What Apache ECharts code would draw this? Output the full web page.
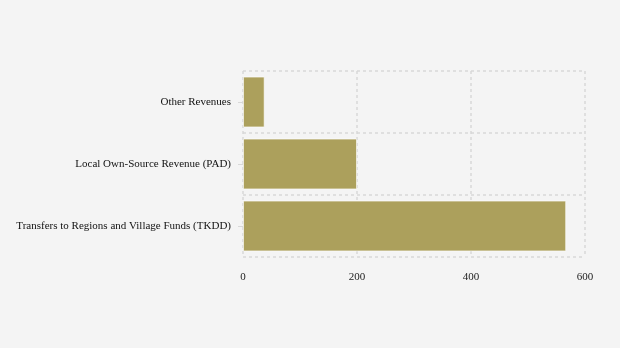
<!DOCTYPE html>
<html><head><meta charset="utf-8">
<script src="https://cdn.jsdelivr.net/npm/echarts@6/dist/echarts.min.js"></script>
<style>html,body{margin:0;padding:0;background:#f4f4f4;}#c{width:620px;height:348px;}</style>
</head><body><div id="c"></div>
<script>
const categories = ["Transfers to Regions and Village Funds (TKDD)", "Local Own-Source Revenue (PAD)", "Other Revenues"];
const values = [567, 200, 38];
const xTicks = [0, 200, 400, 600];

const chart = echarts.init(document.getElementById('c'), null, {renderer: 'canvas'});
chart.setOption({
  backgroundColor: '#f4f4f4',
  animation: false,
  textStyle: {fontFamily: 'Liberation Serif'},
  grid: {left: 243, right: 35, top: 71, bottom: 91, containLabel: false},
  xAxis: {
    type: 'value', min: 0, max: 600, interval: 200,
    axisLine: {show: false}, axisTick: {show: false},
    axisLabel: {color: '#222', fontSize: 11, fontFamily: 'Liberation Serif', margin: 15},
    splitLine: {show: true, lineStyle: {color: '#d8d8d8', type: [3, 3], width: 1.5}}
  },
  yAxis: {
    type: 'category', data: categories,
    axisLine: {show: false},
    axisTick: {show: true, alignWithLabel: true, length: 5, lineStyle: {color: '#d8d8d8'}},
    axisLabel: {color: '#111', fontSize: 11, fontFamily: 'Liberation Serif', margin: 12},
    splitLine: {show: true, lineStyle: {color: '#d8d8d8', type: [3, 3], width: 1.5}}
  },
  series: [{
    type: 'bar', data: values, barCategoryGap: '18%',
    itemStyle: {color: '#aca05c', borderColor: 'rgba(255,255,255,0.6)', borderWidth: 1}
  }]
});
</script></body></html>
